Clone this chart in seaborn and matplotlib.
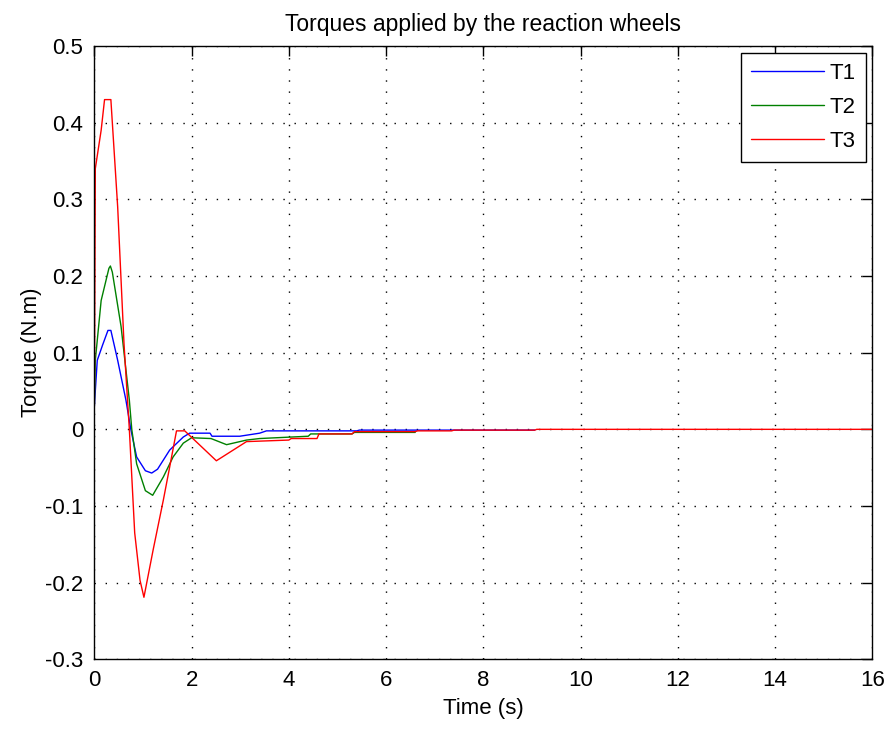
import matplotlib
matplotlib.use("Agg")
import matplotlib.pyplot as plt
import numpy as np
import pandas as pd
import seaborn as sns

# Reaction-wheel torque histories (time in s, torque in N.m)
t1_time = [0.0, 0.02, 0.06, 0.17, 0.28, 0.34, 0.48, 0.65, 0.75, 0.87, 1.05, 1.18, 1.30,
           1.55, 1.83, 1.96, 2.38, 2.42, 2.99, 3.40, 3.54, 5.40, 5.45, 9.06]
t1_torque = [0.03, 0.05, 0.09, 0.11, 0.129, 0.129, 0.09, 0.038, 0.0, -0.036, -0.054, -0.057, -0.052,
             -0.027, -0.010, -0.005, -0.005, -0.009, -0.009, -0.005, -0.002, -0.002, -0.001, -0.001]

t2_time = [0.0, 0.02, 0.14, 0.30, 0.33, 0.37, 0.55, 0.72, 0.77, 0.87, 1.05, 1.20, 1.42,
           1.62, 1.83, 2.00, 2.40, 2.72, 3.13, 3.40, 4.40, 4.45, 5.30, 5.35, 6.60]
t2_torque = [0.03, 0.09, 0.168, 0.21, 0.213, 0.205, 0.134, 0.038, 0.0, -0.045, -0.080, -0.086, -0.062,
             -0.036, -0.018, -0.011, -0.012, -0.020, -0.014, -0.012, -0.009, -0.006, -0.006, -0.004, -0.004]

t3_time = [0.0, 0.02, 0.14, 0.21, 0.34, 0.48, 0.61, 0.72, 0.83, 0.94, 1.02, 1.21, 1.42,
           1.55, 1.69, 1.86, 2.51, 3.13, 4.00, 4.05, 4.58, 4.62, 5.30, 5.35, 6.60, 6.65,
           7.35, 7.40, 9.06, 9.10, 16.0]
t3_torque = [0.03, 0.34, 0.39, 0.43, 0.43, 0.29, 0.112, 0.0, -0.135, -0.197, -0.219, -0.157, -0.092,
             -0.049, -0.002, -0.002, -0.041, -0.016, -0.014, -0.012, -0.012, -0.006, -0.006, -0.003,
             -0.003, -0.002, -0.002, -0.001, -0.001, 0.0, 0.0]

series_names = ["T1", "T2", "T3"]
series_colors = ["#0000ff", "#008000", "#ff0000"]

frames = []
for name, tt, vv in zip(series_names, [t1_time, t2_time, t3_time],
                        [t1_torque, t2_torque, t3_torque]):
    frames.append(pd.DataFrame({"Time": tt, "Torque": vv, "Signal": name}))
df = pd.concat(frames, ignore_index=True)

sns.set_style("white")
plt.rcParams["font.family"] = ["Liberation Sans", "DejaVu Sans"]
plt.rcParams["text.color"] = "black"
plt.rcParams["axes.labelcolor"] = "black"

fig = plt.figure(figsize=(8.9, 7.29), dpi=100)
ax = fig.add_axes([0.106, 0.0955, 0.874, 0.8415])

sns.lineplot(data=df, x="Time", y="Torque", hue="Signal", palette=series_colors,
             sort=False, estimator=None, linewidth=1.0, ax=ax)

ax.set_xlim(0, 16)
ax.set_ylim(-0.3, 0.5)
xt = np.arange(0, 17, 2)
yt = np.round(np.arange(-0.3, 0.51, 0.1), 1)
ax.set_xticks(xt)
ax.set_yticks(yt)
ax.set_xticklabels([f"{v:g}" for v in xt])
ax.set_yticklabels([f"{v:g}" for v in yt])

ax.grid(True, color="black", linestyle=(0, (1, 7)), linewidth=1.0)
ax.tick_params(direction="in", length=7, width=1, top=True, right=True,
               labelsize=16, pad=8, colors="black")
for sp in ax.spines.values():
    sp.set_color("black")
    sp.set_linewidth(1.0)

ax.set_title("Torques applied by the reaction wheels", fontsize=16.5, pad=11, color="black")
ax.set_xlabel("Time (s)", fontsize=16, labelpad=5)
ax.set_ylabel("Torque (N.m)", fontsize=16, labelpad=2)

leg = ax.legend(loc="upper right", fontsize=16, frameon=True, fancybox=False,
                handlelength=3.3, borderpad=0.45, labelspacing=0.6,
                borderaxespad=0.3, handletextpad=0.25)
leg.get_frame().set_edgecolor("black")
leg.get_frame().set_linewidth(1.0)
leg.get_frame().set_alpha(1.0)
leg.set_title(None)

fig.savefig("out.png", dpi=100, facecolor="white")
